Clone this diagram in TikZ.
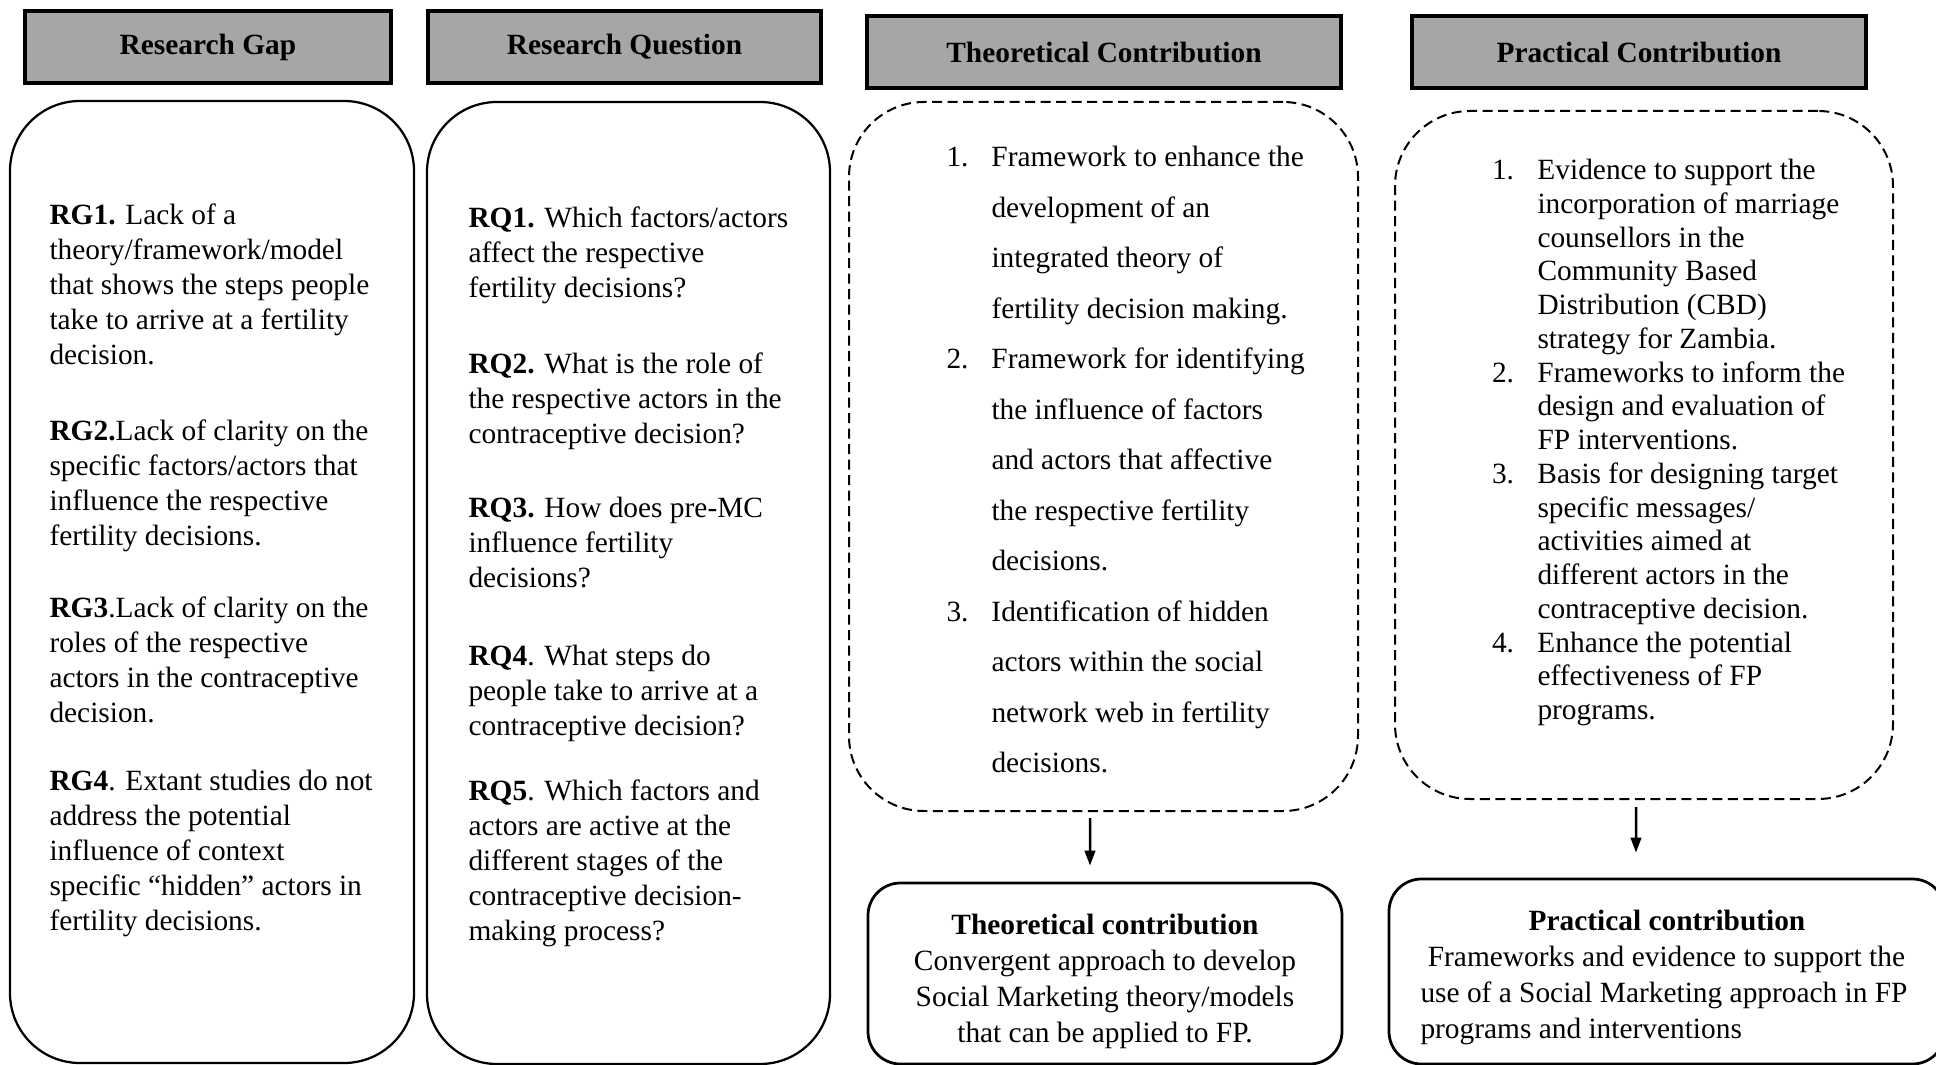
\documentclass[tikz,border=0pt]{standalone}
\usepackage{fontspec}
\setmainfont{Liberation Serif}
\usepackage{tikz}
\usetikzlibrary{arrows.meta,positioning}
\usepackage{xcolor}
\definecolor{headgray}{HTML}{A6A6A6}
\tikzset{
  header/.style={draw=black,fill=headgray,line width=1.8pt,inner sep=0pt,
    minimum height=28.8pt,font=\fontsize{11.75}{14}\selectfont\bfseries},
  panel/.style={draw=black,line width=0.9pt,rounded corners=28pt},
  dashpanel/.style={draw=black,line width=0.8pt,rounded corners=30pt,
    dash pattern=on 4pt off 2.2pt},
  result/.style={draw=black,line width=1.1pt,rounded corners=13pt},
  txt/.style={inner sep=0pt,anchor=north west},
  arrow/.style={-{Triangle[length=6pt,width=4.2pt]},line width=1pt}
}
\begin{document}
\begin{tikzpicture}[x=0.4pt,y=-0.4pt]
  \useasboundingbox (0,0) rectangle (1936,1065);
  \node[header,minimum width=146.4pt] (hgap) at (208,47) {Research Gap};
  \node[header,minimum width=157.2pt] (hques) at (624.5,47) {Research Question};
  \node[header,minimum width=189.6pt] (htheo) at (1104,52) {Theoretical Contribution};
  \node[header,minimum width=181.6pt] (hprac) at (1639,52) {Practical Contribution};

  \node[panel,minimum width=161.6pt,minimum height=384.8pt] (pgap) at (212,582) {};
  \node[panel,minimum width=161.2pt,minimum height=384.8pt] (pques) at (628.5,583) {};
  \node[dashpanel,minimum width=203.6pt,minimum height=283.6pt] (ptheo) at (1103.5,456.5) {};
  \node[dashpanel,minimum width=199.2pt,minimum height=275.2pt] (pprac) at (1644,455) {};

  \node[txt,font=\fontsize{11.75}{14}\selectfont] (tgap) at (49,199) {\begin{tabular}{@{}l@{}}
    \textbf{RG1.} Lack of a\\
    theory/framework/model\\
    that shows the steps people\\
    take to arrive at a fertility\\
    decision.\\[16.5pt]
    \textbf{RG2.}Lack of clarity on the\\
    specific factors/actors that\\
    influence the respective\\
    fertility decisions.\\[15pt]
    \textbf{RG3}.Lack of clarity on the\\
    roles of the respective\\
    actors in the contraceptive\\
    decision.\\[13pt]
    \textbf{RG4}. Extant studies do not\\
    address the potential\\
    influence of context\\
    specific “hidden” actors in\\
    fertility decisions.
  \end{tabular}};
  \node[txt,font=\fontsize{11.75}{14}\selectfont] (tques) at (468,202.5) {\begin{tabular}{@{}l@{}}
    \textbf{RQ1.} Which factors/actors\\
    affect the respective\\
    fertility decisions?\\[16.5pt]
    \textbf{RQ2.} What is the role of\\
    the respective actors in the\\
    contraceptive decision?\\[15.5pt]
    \textbf{RQ3.} How does pre-MC\\
    influence fertility\\
    decisions?\\[17pt]
    \textbf{RQ4}. What steps do\\
    people take to arrive at a\\
    contraceptive decision?\\[12pt]
    \textbf{RQ5}. Which factors and\\
    actors are active at the\\
    different stages of the\\
    contraceptive decision-\\
    making process?
  \end{tabular}};
  \node[txt,font=\fontsize{11.75}{20.2}\selectfont] (ttheo) at (946,131) {\begin{tabular}{@{}p{18pt}@{}l@{}}
    1. & Framework to enhance the\\
       & development of an\\
       & integrated theory of\\
       & fertility decision making.\\
    2. & Framework for identifying\\
       & the influence of factors\\
       & and actors that affective\\
       & the respective fertility\\
       & decisions.\\
    3. & Identification of hidden\\
       & actors within the social\\
       & network web in fertility\\
       & decisions.
  \end{tabular}};
  \node[txt,font=\fontsize{11.75}{13.5}\selectfont] (tprac) at (1491.5,155.5) {\begin{tabular}{@{}p{18.2pt}@{}l@{}}
    1. & Evidence to support the\\
       & incorporation of marriage\\
       & counsellors in the\\
       & Community Based\\
       & Distribution (CBD)\\
       & strategy for Zambia.\\
    2. & Frameworks to inform the\\
       & design and evaluation of\\
       & FP interventions.\\
    3. & Basis for designing target\\
       & specific messages/\\
       & activities aimed at\\
       & different actors in the\\
       & contraceptive decision.\\
    4. & Enhance the potential\\
       & effectiveness of FP\\
       & programs.
  \end{tabular}};

  \node[result,minimum width=189.6pt,minimum height=72.4pt] (rtheo) at (1105,973.5) {};
  \node[align=center,inner sep=0pt,font=\fontsize{11.75}{14.4}\selectfont] (trtext) at ([yshift=-3pt]rtheo.center)
    {\textbf{Theoretical contribution}\\Convergent approach to develop\\Social Marketing theory/models\\that can be applied to FP.};
  \node[result,minimum width=222.4pt,minimum height=74pt] (rprac) at (1667,971.5) {};
  \node[inner sep=0pt,anchor=base,font=\fontsize{11.75}{14.4}\selectfont\bfseries] (prtitle) at (1667,930) {Practical contribution};
  \node[txt,font=\fontsize{11.75}{14.4}\selectfont] (prbody) at (1420,941) {\begin{tabular}{@{}l@{}}
    \ Frameworks and evidence to support the\\
    use of a Social Marketing approach in FP\\
    programs and interventions
  \end{tabular}};

  \draw[arrow,shorten <=2.4pt,shorten >=6.4pt] ([xshift=-5.4pt]ptheo.south) -- ([xshift=-6pt]rtheo.north);
  \draw[arrow,shorten <=2.8pt,shorten >=10pt] ([xshift=-3.2pt]pprac.south) -- ([xshift=-12.4pt]rprac.north);
\end{tikzpicture}
\end{document}
